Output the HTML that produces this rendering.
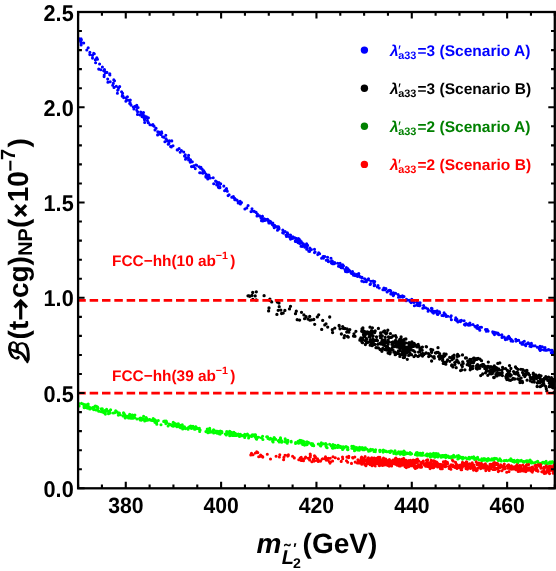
<!DOCTYPE html>
<html><head><meta charset="utf-8"><title>plot</title><style>html,body{margin:0;padding:0;background:#fff;width:556px;height:571px;overflow:hidden}text{font-family:"Liberation Sans",sans-serif;text-rendering:geometricPrecision}svg{will-change:transform}</style></head><body>
<svg width="556" height="571" viewBox="0 0 556 571" style="display:block;position:absolute;left:0;top:0">
<rect width="556" height="571" fill="#fff"/>
<defs><clipPath id="c"><rect x="78.1" y="12.0" width="478.7" height="476.3"/></clipPath></defs>
<g clip-path="url(#c)">
<path d="M78.7 39.0h0M81.4 39.7h0M81.1 44.9h0M78.7 38.5h0M80.9 42.6h0M83.7 43.0h0M79.1 40.3h0M81.0 38.7h0M81.0 42.1h0M80.1 39.6h0M86.8 50.0h0M89.8 54.6h0M89.9 52.4h0M88.2 47.8h0M92.5 58.1h0M165.8 135.2h0M117.4 93.3h0M143.0 116.9h0M142.0 116.6h0M96.1 59.1h0M136.8 110.2h0M148.4 122.5h0M164.9 141.7h0M99.6 64.0h0M169.5 140.8h0M100.8 69.7h0M170.6 146.6h0M102.4 67.0h0M157.6 134.9h0M103.7 70.7h0M154.1 126.3h0M95.6 62.7h0M121.6 91.7h0M113.3 83.4h0M110.2 81.8h0M109.8 73.8h0M96.8 57.7h0M109.9 75.0h0M138.1 107.5h0M193.6 166.4h0M112.7 85.2h0M185.5 159.3h0M113.8 79.9h0M95.3 59.8h0M137.2 107.6h0M126.2 98.0h0M130.3 100.1h0M181.4 150.6h0M140.7 112.0h0M133.3 107.1h0M98.7 69.1h0M123.1 96.4h0M107.9 82.2h0M156.1 128.3h0M160.7 134.5h0M118.6 87.9h0M141.9 112.8h0M180.2 152.3h0M107.7 79.1h0M147.4 120.5h0M137.5 114.4h0M128.8 100.3h0M141.4 115.2h0M127.4 96.8h0M188.6 159.9h0M104.5 69.6h0M131.0 105.1h0M161.6 131.9h0M196.6 165.2h0M189.2 159.4h0M135.9 106.7h0M130.7 104.5h0M136.8 105.4h0M137.6 111.7h0M104.8 71.5h0M142.7 114.3h0M140.1 114.9h0M157.8 131.8h0M186.2 157.7h0M144.5 119.0h0M163.8 137.2h0M143.5 112.5h0M126.1 100.7h0M145.8 117.2h0M146.5 116.7h0M144.5 119.7h0M148.2 122.8h0M122.6 93.3h0M177.6 150.0h0M117.7 90.3h0M171.3 146.9h0M119.7 86.6h0M135.1 106.4h0M92.5 55.4h0M192.3 161.8h0M122.4 95.3h0M168.9 143.6h0M159.6 133.7h0M168.9 142.1h0M118.1 89.8h0M144.3 115.8h0M104.1 76.6h0M129.7 103.5h0M199.1 166.7h0M152.2 125.0h0M191.5 166.6h0M195.8 165.0h0M126.6 99.9h0M130.1 102.9h0M106.9 72.4h0M152.9 124.6h0M183.7 152.0h0M161.8 133.3h0M114.0 87.4h0M167.6 140.9h0M144.7 122.4h0M105.4 72.7h0M171.8 140.9h0M166.1 138.9h0M94.3 53.8h0M188.5 157.2h0M153.6 125.8h0M155.0 129.9h0M104.2 75.0h0M177.2 149.9h0M144.4 119.0h0M179.1 148.6h0M143.5 112.5h0M195.3 168.6h0M185.3 154.8h0M126.9 97.0h0M150.0 124.7h0M142.5 114.9h0M148.4 117.8h0M173.0 145.7h0M162.6 136.7h0M190.2 162.3h0M93.7 53.3h0M133.9 109.0h0M188.6 155.3h0M147.3 118.3h0M190.5 159.8h0M114.5 80.8h0M122.2 96.2h0M168.2 144.2h0M193.7 165.9h0M158.9 132.0h0M184.5 156.1h0M125.9 101.2h0M97.5 59.3h0M116.3 86.2h0M109.7 74.7h0M123.6 97.6h0M199.7 172.8h0M200.6 168.3h0M323.8 256.6h0M233.1 196.9h0M287.9 234.0h0M295.4 241.4h0M203.8 170.9h0M208.2 175.7h0M233.0 196.7h0M234.4 198.5h0M207.1 175.2h0M209.9 177.9h0M315.1 252.0h0M208.1 176.0h0M306.5 247.6h0M254.3 211.4h0M298.4 240.5h0M219.7 186.5h0M306.8 245.1h0M272.8 223.1h0M302.1 246.4h0M318.7 252.8h0M215.6 181.1h0M305.8 244.9h0M206.2 174.4h0M217.8 184.2h0M217.9 185.1h0M295.3 238.0h0M227.3 191.3h0M220.0 187.6h0M302.1 242.7h0M277.5 230.2h0M304.9 247.2h0M267.6 219.4h0M282.8 230.0h0M224.6 190.8h0M205.8 176.3h0M246.8 207.9h0M263.9 220.4h0M238.2 202.9h0M290.5 235.1h0M256.1 212.4h0M282.7 232.8h0M274.3 227.7h0M225.6 189.9h0M205.9 177.1h0M328.3 261.6h0M208.5 176.1h0M200.2 172.8h0M216.6 181.9h0M248.1 205.5h0M308.8 251.3h0M309.9 248.0h0M251.0 211.6h0M277.9 226.9h0M239.0 202.0h0M327.9 260.2h0M264.3 218.7h0M298.8 239.6h0M241.5 202.5h0M269.6 221.5h0M297.0 239.3h0M324.8 256.5h0M218.4 187.3h0M262.5 216.2h0M270.5 221.6h0M311.4 249.6h0M213.7 183.7h0M301.2 241.5h0M287.4 232.8h0M270.9 222.9h0M241.5 202.5h0M207.6 178.3h0M257.0 216.0h0M237.1 200.3h0M292.9 236.8h0M259.6 215.9h0M240.1 201.3h0M286.0 235.1h0M261.9 216.9h0M300.0 240.2h0M296.5 238.5h0M319.6 253.7h0M296.4 240.1h0M269.1 220.9h0M304.1 245.9h0M261.0 218.1h0M310.3 249.6h0M262.4 218.9h0M228.1 195.6h0M226.5 188.6h0M264.8 220.4h0M244.9 209.0h0M266.3 219.5h0M236.4 199.8h0M207.1 175.2h0M277.6 227.6h0M268.9 222.9h0M252.0 208.7h0M234.6 198.2h0M266.6 219.9h0M218.9 182.5h0M323.5 258.1h0M273.3 225.1h0M327.6 257.3h0M220.7 183.8h0M216.6 181.7h0M298.3 242.6h0M257.4 214.0h0M219.1 187.7h0M319.1 253.2h0M208.8 175.0h0M210.3 178.0h0M265.7 219.9h0M298.4 241.4h0M265.2 219.8h0M272.5 224.7h0M298.0 242.6h0M240.4 203.9h0M283.4 233.1h0M274.6 225.2h0M323.1 256.6h0M202.1 169.0h0M200.9 167.3h0M223.8 186.1h0M216.7 184.9h0M289.8 237.3h0M290.5 239.1h0M277.6 226.9h0M292.0 237.5h0M292.3 238.4h0M293.1 238.3h0M261.5 220.7h0M294.5 237.8h0M299.9 242.9h0M229.1 194.7h0M326.3 260.2h0M203.0 170.9h0M298.4 238.6h0M273.7 226.3h0M226.9 190.6h0M321.6 258.3h0M301.0 246.3h0M285.1 231.5h0M302.8 245.0h0M303.4 243.8h0M291.3 238.8h0M299.8 243.4h0M234.8 199.8h0M290.7 237.8h0M306.8 248.1h0M306.7 249.2h0M287.5 236.2h0M286.5 236.4h0M309.5 251.4h0M262.8 220.9h0M213.2 177.7h0M207.9 178.4h0M314.5 249.3h0M268.6 221.7h0M279.0 229.0h0M314.5 252.6h0M206.9 176.3h0M306.6 243.8h0M307.6 245.4h0M295.3 241.0h0M317.9 254.2h0M278.6 226.9h0M202.8 173.3h0M283.2 231.7h0M209.0 175.6h0M233.4 196.5h0M294.0 237.9h0M317.8 254.6h0M307.0 249.2h0M207.8 179.0h0M275.6 226.4h0M279.0 228.1h0M299.1 239.1h0M252.1 211.1h0M204.7 172.4h0M262.3 216.4h0M231.8 197.3h0M366.3 281.1h0M330.9 261.5h0M481.5 327.3h0M366.3 281.7h0M486.3 331.3h0M334.8 263.2h0M516.3 340.7h0M347.9 271.6h0M418.4 303.3h0M402.8 297.1h0M395.6 293.3h0M428.6 310.2h0M531.1 346.6h0M464.1 320.7h0M341.3 267.8h0M342.7 267.7h0M343.5 265.7h0M442.0 315.5h0M345.0 269.6h0M512.8 341.3h0M346.4 271.8h0M423.6 305.5h0M477.5 325.5h0M358.4 274.6h0M504.2 337.1h0M388.2 290.9h0M373.9 283.2h0M552.8 352.8h0M553.3 352.0h0M351.2 273.2h0M517.7 340.5h0M485.5 329.5h0M361.8 281.1h0M545.0 350.1h0M546.6 350.2h0M456.9 319.3h0M358.8 275.5h0M545.0 347.6h0M515.8 339.3h0M362.0 277.4h0M445.2 314.2h0M468.5 324.3h0M479.8 330.2h0M468.2 324.2h0M450.7 317.1h0M510.0 338.8h0M367.0 280.0h0M368.4 279.7h0M486.9 329.8h0M345.5 271.5h0M370.5 284.1h0M370.9 281.3h0M446.2 315.9h0M445.6 314.9h0M487.2 329.6h0M540.9 349.7h0M508.1 337.9h0M516.1 341.1h0M465.2 324.0h0M377.4 287.0h0M531.8 346.1h0M419.4 303.0h0M334.0 263.8h0M525.2 344.8h0M465.7 323.8h0M358.8 273.6h0M383.6 289.8h0M469.1 324.5h0M468.9 325.2h0M393.5 292.9h0M549.6 350.0h0M477.5 328.3h0M527.9 343.5h0M520.4 342.7h0M501.7 335.1h0M389.4 290.3h0M461.4 320.4h0M416.7 305.0h0M493.1 333.0h0M552.1 350.2h0M540.0 346.3h0M544.0 350.0h0M528.1 342.8h0M393.0 294.9h0M339.7 266.6h0M374.7 281.6h0M358.7 275.8h0M436.4 312.4h0M393.7 294.8h0M470.3 325.0h0M437.2 310.9h0M551.4 350.2h0M505.2 338.7h0M469.9 323.0h0M398.1 294.5h0M332.5 263.8h0M385.9 288.5h0M417.9 305.4h0M444.1 312.9h0M407.0 299.8h0M530.9 344.5h0M352.5 271.5h0M411.8 299.2h0M367.3 279.9h0M360.3 276.9h0M432.5 312.2h0M530.7 344.4h0M431.8 310.9h0M332.3 261.1h0M417.9 305.1h0M533.0 345.7h0M419.0 305.6h0M479.0 328.3h0M497.8 333.1h0M331.8 263.2h0M422.8 308.3h0M443.3 315.6h0M410.1 301.4h0M444.2 314.3h0M543.6 349.7h0M518.7 340.3h0M433.5 313.1h0M486.2 329.9h0M522.2 342.9h0M398.5 297.3h0M363.8 281.8h0M431.4 311.1h0M456.6 320.6h0M432.6 310.8h0M468.1 325.0h0M393.3 295.7h0M435.0 311.2h0M525.7 345.7h0M391.5 293.6h0M419.5 305.8h0M383.9 288.1h0M502.0 337.4h0M432.0 308.5h0M473.0 324.5h0M511.1 340.9h0M480.1 327.2h0M378.0 285.6h0M407.1 299.9h0M347.8 269.8h0M445.7 315.5h0M451.2 315.8h0M361.9 277.7h0M447.8 316.3h0M439.4 311.8h0M341.6 265.3h0M353.5 275.3h0M404.0 296.5h0M390.7 290.9h0M400.3 296.9h0M393.5 293.8h0M524.3 341.2h0M477.0 328.3h0M455.8 317.9h0M349.3 271.3h0M457.9 322.0h0M414.4 305.7h0M416.9 302.2h0M460.5 321.6h0M541.1 346.9h0M494.5 334.6h0M427.6 308.8h0M505.9 338.9h0M464.4 324.5h0M409.3 300.3h0M466.1 323.5h0M340.1 263.4h0M505.4 339.6h0M333.4 262.9h0M439.7 313.0h0M456.9 320.0h0M522.0 344.2h0M496.2 332.7h0M451.4 319.7h0M349.6 270.8h0M420.1 302.8h0M474.9 326.2h0M384.8 289.8h0M357.1 274.3h0M420.1 305.3h0M539.6 348.8h0M478.9 328.5h0M406.5 299.3h0M337.7 263.3h0M446.2 316.5h0M460.0 320.9h0M393.2 293.7h0M417.7 303.0h0M352.5 272.9h0M374.2 285.8h0M485.9 329.9h0M433.5 311.9h0M539.3 349.1h0M530.3 343.9h0M374.7 285.5h0M331.4 263.0h0M364.7 278.8h0M475.7 327.0h0M342.7 264.7h0M538.9 347.6h0M488.1 331.1h0M424.1 307.6h0M495.1 333.5h0M445.5 315.3h0M431.8 309.1h0M497.9 334.1h0M498.4 333.8h0M431.8 310.3h0M402.4 295.8h0M540.2 350.4h0M501.9 334.9h0M437.8 314.5h0M406.1 300.7h0M425.6 307.7h0M346.4 267.5h0M542.3 346.7h0M334.7 262.6h0M507.7 337.4h0M508.5 336.7h0M508.7 336.4h0M509.7 337.9h0M347.1 271.4h0M331.0 258.3h0M512.2 340.5h0M390.8 293.9h0M373.1 281.1h0M492.7 331.7h0M346.2 271.2h0M411.1 302.6h0M383.6 289.6h0M455.6 319.3h0M352.2 273.7h0M525.5 345.1h0M413.9 302.4h0M478.5 328.7h0M373.8 281.8h0M522.7 342.2h0M523.2 344.2h0M494.6 332.3h0M526.3 344.0h0M349.8 270.9h0M379.2 288.0h0M354.4 273.7h0M370.1 284.4h0M391.4 292.9h0M529.9 346.3h0M347.7 268.6h0M531.4 343.2h0M537.3 347.2h0M338.5 266.3h0M494.4 333.3h0M400.0 296.4h0M535.1 345.8h0M387.1 291.9h0M507.1 339.2h0M357.6 276.4h0M374.6 284.8h0M499.0 334.8h0M546.7 350.3h0M431.4 308.4h0M455.4 319.7h0M428.1 311.2h0M382.9 289.7h0M437.3 314.3h0M348.0 269.3h0M368.5 278.7h0M411.5 301.5h0M355.1 275.6h0M548.4 349.6h0M548.8 349.8h0M390.1 290.6h0M465.2 325.1h0M551.3 352.7h0M551.8 351.4h0M552.8 351.9h0M511.3 339.5h0M348.2 269.3h0" stroke="#0000ff" stroke-width="3.10" stroke-linecap="round" fill="none"/>
<path d="M248.0 295.8h0M249.8 296.3h0M251.9 295.5h0M252.8 299.4h0M270.0 300.5h0M256.3 291.8h0M296.3 311.2h0M252.7 292.5h0M269.0 307.9h0M264.1 295.7h0M279.2 306.7h0M284.9 310.4h0M268.6 310.9h0M269.9 299.1h0M271.7 301.9h0M249.0 295.8h0M283.2 313.1h0M277.3 302.0h0M278.2 310.3h0M280.8 310.1h0M281.6 313.5h0M256.2 300.0h0M248.9 295.8h0M279.0 303.0h0M289.5 308.9h0M290.5 306.3h0M276.9 314.4h0M255.2 295.9h0M295.5 313.7h0M297.2 319.7h0M299.6 320.1h0M348.9 332.2h0M301.5 312.3h0M303.9 314.9h0M304.6 318.7h0M306.1 316.7h0M308.0 319.1h0M309.7 316.4h0M348.1 330.1h0M343.0 328.3h0M313.8 319.5h0M314.7 324.3h0M310.0 320.2h0M348.3 337.1h0M318.7 314.8h0M332.3 329.7h0M321.7 329.4h0M355.9 331.3h0M324.8 324.9h0M326.0 323.8h0M327.7 327.1h0M334.8 328.1h0M339.1 325.5h0M332.6 332.5h0M340.0 328.8h0M344.1 337.7h0M346.7 332.1h0M329.7 317.0h0M339.2 326.0h0M341.4 334.0h0M342.7 326.6h0M322.7 320.4h0M344.8 328.5h0M347.0 329.0h0M347.5 336.4h0M349.8 329.6h0M344.6 335.6h0M311.3 319.9h0M353.5 336.1h0M355.0 336.3h0M317.3 316.9h0M354.0 333.8h0M359.9 340.2h0M360.1 339.3h0M370.6 335.0h0M365.9 334.0h0M360.9 337.8h0M363.7 336.7h0M361.7 331.2h0M364.1 331.1h0M362.0 328.9h0M362.5 331.8h0M362.8 330.3h0M376.5 336.8h0M363.2 331.4h0M363.5 334.7h0M378.4 347.9h0M372.4 327.8h0M373.6 341.4h0M364.8 336.3h0M365.0 335.2h0M365.4 340.8h0M365.5 334.1h0M365.9 332.2h0M366.3 341.7h0M372.0 334.4h0M372.2 345.7h0M372.9 338.9h0M376.6 339.7h0M367.6 342.6h0M377.9 344.3h0M362.9 328.0h0M378.4 328.4h0M368.8 332.5h0M368.9 334.2h0M365.0 332.7h0M362.1 341.6h0M369.8 341.6h0M370.2 345.2h0M370.5 342.3h0M370.0 337.1h0M371.0 342.8h0M371.4 330.6h0M371.5 341.1h0M371.8 342.4h0M372.0 340.7h0M372.6 331.7h0M370.6 332.3h0M373.1 336.0h0M373.4 331.8h0M362.5 342.7h0M366.4 338.7h0M366.5 339.3h0M369.2 336.9h0M374.6 340.5h0M374.9 344.4h0M375.2 331.0h0M365.4 344.5h0M375.9 340.3h0M376.0 347.7h0M362.2 330.5h0M361.8 338.8h0M377.0 347.6h0M373.5 344.1h0M377.5 340.6h0M366.6 341.7h0M367.3 331.8h0M378.3 343.9h0M370.1 339.9h0M374.7 332.6h0M361.9 342.0h0M370.0 327.2h0M363.0 339.5h0M380.1 335.9h0M380.3 336.2h0M380.5 337.7h0M390.0 350.3h0M393.0 350.1h0M386.8 333.0h0M381.2 337.8h0M381.3 344.0h0M381.3 335.7h0M381.8 341.5h0M381.9 351.3h0M382.1 349.7h0M395.6 340.3h0M382.4 339.9h0M402.7 352.4h0M382.8 348.5h0M383.1 331.9h0M387.4 347.2h0M383.4 341.8h0M386.7 350.0h0M395.6 354.6h0M384.0 341.4h0M384.0 343.9h0M384.3 342.2h0M384.5 345.5h0M384.6 331.0h0M388.9 341.9h0M385.0 349.5h0M385.2 337.4h0M385.4 332.8h0M386.0 333.9h0M410.1 354.5h0M382.0 341.7h0M386.2 346.7h0M404.4 339.4h0M386.5 346.6h0M382.3 335.8h0M386.9 343.0h0M387.1 342.4h0M402.3 351.4h0M387.4 346.3h0M387.5 347.1h0M387.8 330.2h0M411.6 344.8h0M388.1 340.1h0M380.1 349.5h0M406.9 351.1h0M399.1 346.8h0M388.9 350.9h0M398.7 353.6h0M389.3 348.7h0M400.1 340.0h0M403.3 357.6h0M405.2 355.2h0M389.9 353.8h0M392.9 336.0h0M390.3 352.5h0M390.4 333.6h0M402.7 354.5h0M405.5 348.5h0M404.1 346.8h0M401.8 342.6h0M391.3 350.0h0M391.5 337.3h0M391.6 349.7h0M391.9 342.5h0M392.0 344.4h0M404.0 342.3h0M392.5 346.9h0M393.0 342.0h0M388.5 336.9h0M409.3 344.2h0M393.1 346.0h0M393.3 343.3h0M380.6 333.0h0M393.7 345.5h0M393.9 352.2h0M394.1 346.7h0M383.5 345.1h0M380.3 343.1h0M396.9 346.9h0M392.4 347.4h0M395.0 352.2h0M395.2 354.7h0M395.4 341.1h0M395.5 335.6h0M404.3 350.4h0M396.0 345.4h0M404.8 347.1h0M396.3 337.3h0M397.1 345.5h0M396.6 343.8h0M401.7 339.9h0M396.9 353.3h0M397.2 345.6h0M393.7 342.8h0M397.5 343.6h0M397.8 342.5h0M398.0 352.3h0M409.1 342.7h0M398.2 346.4h0M398.4 351.0h0M398.7 344.1h0M398.9 340.7h0M399.0 347.4h0M399.2 343.0h0M402.1 345.9h0M399.6 350.4h0M399.8 339.5h0M399.9 356.4h0M389.8 337.5h0M385.2 341.5h0M400.6 338.8h0M408.4 352.1h0M400.8 344.3h0M401.1 337.0h0M401.1 340.7h0M401.3 348.0h0M400.8 342.5h0M401.8 340.7h0M401.9 353.5h0M402.0 354.4h0M397.6 346.1h0M402.5 347.9h0M406.1 347.2h0M402.8 349.6h0M403.0 344.1h0M406.2 349.6h0M403.3 349.2h0M403.5 340.3h0M380.2 343.8h0M403.9 345.5h0M404.1 348.0h0M404.4 357.4h0M404.5 357.0h0M410.1 350.3h0M392.3 344.7h0M405.1 355.1h0M405.1 352.7h0M406.1 351.9h0M405.6 343.0h0M388.1 353.1h0M405.9 339.0h0M406.0 352.8h0M406.2 347.8h0M406.5 352.9h0M406.7 352.7h0M406.9 347.7h0M407.0 352.1h0M388.1 344.2h0M407.3 359.3h0M407.5 350.0h0M407.8 350.6h0M408.0 347.5h0M411.4 349.9h0M406.9 347.6h0M408.5 343.2h0M408.7 355.4h0M408.9 347.4h0M409.0 345.5h0M409.1 345.6h0M409.4 344.4h0M409.5 350.4h0M410.9 347.4h0M409.8 345.5h0M410.1 353.4h0M384.9 340.1h0M410.5 344.6h0M410.6 346.1h0M410.9 344.6h0M411.0 347.5h0M400.1 355.5h0M411.3 347.2h0M411.5 354.7h0M399.5 343.0h0M411.9 341.8h0M428.7 356.5h0M457.6 354.4h0M413.4 350.6h0M414.1 343.3h0M446.1 354.2h0M414.9 351.9h0M415.5 355.3h0M416.0 346.0h0M416.9 346.9h0M452.1 359.6h0M418.0 356.4h0M418.2 344.4h0M418.8 347.0h0M419.3 355.6h0M420.0 349.8h0M420.8 348.1h0M452.8 356.1h0M468.9 365.3h0M422.5 356.0h0M422.6 353.5h0M465.5 358.0h0M414.0 356.6h0M447.6 359.9h0M425.1 353.6h0M438.2 352.4h0M426.2 346.6h0M449.8 361.3h0M457.0 361.4h0M449.7 357.3h0M428.5 353.6h0M426.5 346.8h0M413.9 343.7h0M430.4 355.6h0M430.9 349.5h0M431.4 352.1h0M431.6 361.0h0M469.8 365.2h0M432.9 356.9h0M415.8 345.1h0M434.3 358.2h0M415.5 345.4h0M435.4 352.8h0M435.9 353.1h0M445.8 364.2h0M451.6 365.6h0M439.6 359.0h0M426.1 353.0h0M438.6 356.5h0M418.6 352.1h0M439.6 353.7h0M440.2 357.7h0M419.6 351.9h0M441.4 356.4h0M442.0 356.1h0M442.6 360.6h0M442.7 359.0h0M443.3 363.4h0M444.0 356.4h0M444.6 362.3h0M444.9 355.5h0M432.7 349.9h0M446.4 361.8h0M438.0 347.7h0M462.3 366.5h0M454.9 364.6h0M423.7 354.7h0M464.9 369.8h0M418.8 346.2h0M458.8 362.8h0M444.1 353.8h0M421.6 354.4h0M451.8 364.8h0M422.4 347.1h0M452.9 366.9h0M453.8 357.8h0M454.1 355.2h0M454.7 362.6h0M437.0 352.4h0M455.7 361.9h0M456.2 367.7h0M456.9 360.0h0M457.3 356.4h0M458.0 361.7h0M413.5 346.4h0M458.9 355.8h0M434.1 356.7h0M440.0 357.0h0M460.6 370.6h0M461.5 364.9h0M461.7 369.9h0M462.7 361.8h0M463.1 363.8h0M453.4 358.5h0M451.4 357.6h0M431.6 352.4h0M463.2 363.4h0M462.5 354.9h0M466.4 357.9h0M467.2 364.7h0M467.7 361.1h0M468.3 362.5h0M425.7 353.3h0M422.2 350.3h0M469.9 359.4h0M470.2 369.8h0M470.5 368.0h0M499.9 373.4h0M471.5 361.4h0M476.3 367.8h0M492.4 373.4h0M472.6 368.5h0M473.0 366.2h0M509.1 371.5h0M473.6 362.6h0M487.8 375.3h0M474.3 358.1h0M492.2 369.8h0M509.5 365.6h0M485.3 368.2h0M509.7 371.3h0M476.3 368.4h0M476.8 359.4h0M477.3 369.0h0M477.6 364.7h0M478.1 358.3h0M476.6 365.8h0M478.7 365.9h0M477.3 365.0h0M486.2 367.7h0M506.9 379.5h0M470.8 362.0h0M480.7 375.6h0M480.9 365.4h0M505.8 376.6h0M481.9 365.0h0M490.2 370.5h0M482.7 374.0h0M482.8 364.4h0M479.7 368.3h0M483.6 364.6h0M483.9 365.6h0M507.0 374.4h0M484.8 368.6h0M498.6 368.8h0M485.6 372.8h0M485.9 372.3h0M484.9 366.2h0M486.6 370.7h0M486.9 370.8h0M482.4 366.3h0M481.5 360.7h0M488.3 362.1h0M494.3 365.9h0M489.0 370.9h0M480.0 359.2h0M489.7 367.5h0M508.0 371.6h0M498.0 374.8h0M490.9 366.6h0M491.2 373.9h0M491.7 370.2h0M492.3 370.0h0M493.2 367.2h0M488.5 366.5h0M493.2 372.2h0M493.7 377.5h0M471.8 366.6h0M494.2 377.5h0M476.7 365.7h0M495.0 369.5h0M497.1 369.9h0M495.9 374.6h0M496.3 367.6h0M496.7 373.0h0M497.2 372.3h0M502.6 367.3h0M497.8 363.4h0M476.8 358.6h0M491.2 370.8h0M499.1 369.7h0M499.6 374.9h0M499.8 362.9h0M496.9 375.9h0M492.6 368.1h0M507.3 378.0h0M501.2 373.6h0M501.9 370.4h0M502.2 372.8h0M502.4 375.6h0M502.9 368.5h0M489.8 373.6h0M487.6 366.4h0M471.1 359.5h0M494.4 370.6h0M471.2 362.8h0M499.7 373.1h0M505.6 368.7h0M486.8 368.3h0M506.2 378.1h0M506.6 375.0h0M496.1 368.3h0M507.4 370.4h0M473.6 358.2h0M474.3 360.7h0M508.7 374.9h0M509.2 374.5h0M509.2 380.0h0M509.8 376.1h0M510.3 376.1h0M510.6 380.3h0M511.2 375.2h0M522.5 382.5h0M512.5 379.3h0M526.5 373.4h0M513.1 378.5h0M513.6 371.6h0M514.4 373.4h0M517.3 372.3h0M515.5 367.0h0M510.1 374.3h0M516.2 372.7h0M525.2 370.9h0M527.5 372.8h0M517.9 369.4h0M518.2 374.8h0M519.0 375.7h0M521.1 378.1h0M519.6 380.0h0M520.1 379.0h0M520.9 369.3h0M515.5 373.8h0M516.3 368.1h0M522.3 381.4h0M522.8 369.6h0M523.5 374.9h0M517.8 372.9h0M524.3 374.5h0M524.8 376.5h0M520.0 382.5h0M514.7 379.0h0M517.8 378.9h0M526.9 370.4h0M527.1 380.2h0M510.9 368.5h0M522.6 372.5h0M528.6 373.7h0M526.1 374.8h0M529.5 375.1h0M543.2 379.5h0M530.5 380.9h0M530.7 378.9h0M536.6 378.5h0M540.2 378.3h0M545.8 376.7h0M531.9 377.9h0M532.3 378.3h0M532.7 377.6h0M533.0 377.3h0M533.3 373.2h0M551.1 385.3h0M533.9 378.7h0M534.3 382.1h0M543.2 381.6h0M530.3 377.6h0M542.0 385.5h0M538.8 376.0h0M535.7 374.8h0M533.9 376.7h0M536.3 375.7h0M536.6 377.2h0M540.6 386.4h0M537.4 383.0h0M534.0 380.6h0M537.9 377.4h0M538.2 381.5h0M547.8 380.4h0M546.8 390.9h0M539.2 375.1h0M550.9 379.6h0M540.0 382.8h0M540.3 379.3h0M552.7 379.4h0M553.3 382.9h0M533.2 374.2h0M541.3 381.0h0M534.9 376.3h0M549.3 386.4h0M542.3 380.6h0M545.6 386.3h0M549.3 383.2h0M533.7 375.6h0M543.7 383.5h0M543.8 380.6h0M544.1 385.1h0M544.5 378.1h0M545.0 378.4h0M551.2 385.7h0M533.4 376.9h0M543.0 382.5h0M540.1 386.7h0M546.3 388.7h0M546.9 379.1h0M553.9 381.9h0M551.3 382.8h0M548.2 380.5h0M549.4 383.1h0M551.4 377.6h0M548.6 377.2h0M541.0 375.8h0M549.3 386.7h0M554.8 380.6h0M549.8 380.2h0M550.2 381.6h0M550.3 386.6h0M550.7 379.8h0M550.9 383.7h0M554.0 379.4h0M551.6 385.8h0M552.0 381.1h0M552.5 387.4h0M532.2 381.8h0M553.0 387.8h0M553.3 385.5h0M553.7 380.0h0M553.9 392.6h0M554.3 387.8h0M530.6 377.4h0M537.1 386.5h0" stroke="#000000" stroke-width="3.30" stroke-linecap="round" fill="none"/>
<path d="M523.8 461.5h0M79.1 405.9h0M285.2 438.9h0M430.2 453.8h0M230.7 434.0h0M106.4 409.8h0M390.3 451.2h0M83.7 404.2h0M519.5 460.9h0M85.2 407.4h0M523.6 461.8h0M213.3 432.5h0M394.4 452.1h0M234.8 433.7h0M88.7 406.6h0M291.2 442.0h0M90.0 407.6h0M255.1 437.0h0M514.2 460.4h0M462.1 457.9h0M141.4 419.6h0M132.5 415.1h0M200.1 430.0h0M438.1 453.7h0M130.7 415.9h0M262.9 439.5h0M284.9 441.5h0M174.7 425.6h0M173.6 425.3h0M338.0 445.2h0M295.9 442.9h0M517.2 460.4h0M255.6 435.9h0M232.3 435.4h0M215.9 431.1h0M397.9 453.0h0M481.5 460.5h0M221.9 432.8h0M199.4 428.3h0M491.8 459.9h0M267.5 436.7h0M421.1 454.8h0M332.8 448.2h0M390.1 452.4h0M275.5 439.2h0M401.6 452.0h0M120.2 414.7h0M229.9 433.0h0M493.9 460.3h0M512.9 461.5h0M238.7 434.6h0M291.2 441.4h0M416.3 452.7h0M334.9 445.3h0M218.8 433.2h0M118.1 412.9h0M275.7 439.2h0M552.1 461.7h0M254.0 434.9h0M166.7 422.3h0M346.0 446.5h0M554.8 463.7h0M504.3 460.7h0M123.5 412.9h0M337.7 447.5h0M443.4 456.6h0M325.7 443.6h0M400.3 454.2h0M114.9 412.6h0M226.9 434.2h0M303.2 443.6h0M481.8 458.9h0M309.0 442.9h0M130.9 418.3h0M156.8 424.3h0M132.5 417.1h0M245.6 435.4h0M229.5 433.1h0M179.6 426.9h0M549.5 462.4h0M268.0 438.4h0M153.2 419.8h0M137.0 419.0h0M177.2 424.0h0M207.3 429.0h0M98.0 408.1h0M278.3 440.7h0M139.6 418.5h0M141.2 420.2h0M216.0 432.6h0M359.6 447.3h0M168.1 426.0h0M527.2 460.8h0M471.6 457.3h0M233.9 432.4h0M395.0 450.7h0M280.5 437.9h0M298.1 441.3h0M407.6 453.4h0M189.7 426.5h0M474.7 458.8h0M400.4 452.1h0M403.6 454.7h0M499.0 460.3h0M153.2 418.5h0M312.7 443.8h0M272.6 441.3h0M154.9 422.2h0M262.6 436.2h0M469.5 457.7h0M380.2 450.3h0M96.1 406.4h0M225.3 434.0h0M274.2 439.3h0M307.0 441.8h0M161.0 424.8h0M548.7 463.1h0M379.7 450.2h0M449.0 457.4h0M383.1 451.0h0M458.1 457.8h0M164.8 421.1h0M166.2 421.1h0M456.8 456.0h0M230.9 433.8h0M510.8 458.8h0M169.0 424.0h0M234.4 433.6h0M425.5 455.2h0M490.1 460.0h0M375.6 449.8h0M453.6 455.2h0M173.2 426.3h0M474.7 459.4h0M132.2 416.1h0M174.9 423.6h0M209.9 432.2h0M449.6 457.0h0M176.9 426.7h0M374.0 451.4h0M513.3 461.6h0M179.4 426.0h0M332.4 448.0h0M272.7 439.3h0M182.7 428.9h0M101.3 408.8h0M182.8 428.0h0M183.7 427.6h0M327.1 447.8h0M432.4 455.9h0M469.5 459.0h0M105.6 410.2h0M187.4 428.2h0M236.5 435.4h0M188.9 427.4h0M520.8 460.9h0M189.9 427.2h0M506.3 460.4h0M250.6 436.1h0M530.1 460.0h0M445.2 455.4h0M417.2 455.2h0M140.3 418.1h0M446.0 455.2h0M195.9 426.9h0M514.4 462.1h0M197.5 428.4h0M248.6 438.0h0M353.8 448.7h0M420.8 455.3h0M191.5 428.5h0M406.8 453.1h0M494.3 459.0h0M353.3 446.4h0M469.0 457.2h0M287.2 441.2h0M386.9 451.7h0M446.4 456.1h0M405.0 452.5h0M235.5 433.6h0M207.4 430.4h0M84.2 407.7h0M488.5 460.1h0M209.7 429.7h0M467.1 458.8h0M184.1 428.1h0M269.7 439.2h0M193.0 426.3h0M212.9 430.5h0M229.7 431.4h0M242.4 435.6h0M195.1 429.2h0M216.0 431.7h0M98.7 411.3h0M217.2 433.3h0M485.5 459.1h0M218.8 431.9h0M219.5 434.0h0M220.2 434.1h0M304.1 443.2h0M221.8 431.6h0M84.0 406.9h0M488.2 458.6h0M218.2 431.7h0M525.3 461.3h0M163.7 421.4h0M149.7 419.6h0M226.3 434.9h0M333.5 445.9h0M227.9 432.1h0M513.7 460.5h0M501.3 461.0h0M385.8 451.1h0M383.1 452.1h0M496.5 458.6h0M446.6 456.6h0M311.6 443.6h0M435.4 453.8h0M212.2 432.1h0M541.7 463.4h0M110.6 409.8h0M165.1 421.7h0M239.5 436.5h0M237.9 435.3h0M325.5 443.7h0M279.2 441.9h0M94.1 409.0h0M332.0 446.5h0M184.0 428.1h0M417.5 454.1h0M123.9 413.2h0M482.5 460.4h0M326.4 447.0h0M364.5 449.6h0M528.6 462.2h0M295.6 443.4h0M247.4 434.1h0M549.6 463.3h0M248.6 435.6h0M410.7 454.3h0M134.9 415.0h0M96.0 409.9h0M354.6 448.2h0M485.1 459.7h0M462.5 459.1h0M523.9 462.3h0M416.1 454.4h0M255.0 434.9h0M255.5 434.7h0M318.3 444.0h0M257.7 437.2h0M546.1 461.3h0M105.4 414.1h0M103.8 412.8h0M492.6 459.2h0M155.5 422.6h0M454.8 457.0h0M409.9 454.0h0M544.9 462.5h0M396.3 454.0h0M541.9 463.2h0M299.4 441.5h0M537.7 461.4h0M372.7 449.6h0M115.7 410.7h0M312.4 445.5h0M225.5 434.0h0M172.0 425.8h0M270.5 438.4h0M320.8 445.5h0M363.4 449.3h0M234.3 435.4h0M403.0 453.7h0M477.6 457.4h0M209.7 428.2h0M97.4 408.5h0M487.2 460.9h0M453.8 456.5h0M178.4 423.7h0M174.1 423.1h0M217.6 431.3h0M544.5 462.6h0M280.5 438.7h0M87.3 405.3h0M439.4 455.4h0M234.6 435.4h0M494.9 458.4h0M173.3 425.1h0M221.3 431.9h0M281.7 442.2h0M286.3 442.3h0M543.8 462.2h0M230.3 434.7h0M174.5 424.9h0M268.5 438.6h0M354.7 449.5h0M213.7 432.9h0M274.7 438.2h0M364.2 448.0h0M488.8 459.3h0M553.5 462.5h0M341.8 446.9h0M340.0 446.3h0M383.3 450.1h0M337.9 445.5h0M509.4 460.1h0M394.6 451.6h0M447.9 456.8h0M298.6 443.2h0M299.9 440.4h0M339.5 446.2h0M437.9 456.9h0M261.4 437.8h0M302.7 444.5h0M287.3 443.2h0M459.3 458.1h0M85.4 405.1h0M419.6 454.9h0M178.3 424.4h0M124.9 414.8h0M479.1 459.8h0M287.9 440.4h0M545.7 462.2h0M404.8 454.3h0M484.6 460.1h0M92.7 408.5h0M362.6 448.3h0M541.5 463.0h0M192.9 427.6h0M313.7 445.8h0M78.4 406.2h0M396.3 452.9h0M451.3 456.5h0M526.7 460.9h0M385.6 451.4h0M417.3 452.6h0M86.1 404.8h0M375.4 451.6h0M415.3 454.6h0M436.5 456.1h0M321.3 442.9h0M273.6 438.8h0M323.4 443.8h0M93.2 407.2h0M83.6 404.4h0M431.6 454.3h0M325.9 446.1h0M326.7 447.6h0M359.1 448.2h0M498.3 460.5h0M368.6 451.3h0M427.4 455.9h0M334.4 447.8h0M238.1 435.1h0M101.4 411.8h0M256.2 438.8h0M105.7 410.9h0M523.2 461.8h0M334.4 447.4h0M331.3 446.0h0M342.6 449.4h0M99.4 411.3h0M337.6 446.3h0M207.5 431.8h0M226.7 431.6h0M246.7 435.0h0M473.7 458.0h0M199.5 429.8h0M119.4 413.1h0M102.8 411.4h0M320.6 443.9h0M97.0 406.7h0M545.0 463.2h0M405.7 453.1h0M194.0 427.9h0M347.0 447.0h0M517.8 462.8h0M108.5 413.7h0M306.6 444.0h0M87.1 406.3h0M431.5 455.1h0M309.1 442.9h0M351.8 446.3h0M154.9 419.8h0M425.9 455.1h0M156.0 422.2h0M332.9 444.5h0M78.5 403.3h0M547.1 463.9h0M356.6 447.6h0M249.2 436.1h0M405.4 452.7h0M500.8 460.0h0M359.2 450.3h0M140.2 420.0h0M384.1 450.6h0M390.4 451.1h0M146.3 419.5h0M362.9 449.7h0M244.7 437.4h0M348.0 449.6h0M459.4 456.4h0M258.6 437.2h0M273.1 441.9h0M552.4 461.9h0M363.1 448.9h0M158.3 420.5h0M123.0 415.9h0M438.3 455.5h0M517.8 460.3h0M199.0 429.0h0M445.7 457.6h0M181.7 426.1h0M266.7 436.7h0M129.7 414.3h0M531.5 461.5h0M134.8 417.8h0M299.8 442.2h0M358.1 448.7h0M152.0 420.5h0M274.1 437.5h0M365.4 447.9h0M270.2 438.8h0M472.4 458.0h0M462.9 457.3h0M302.8 441.1h0M97.5 410.1h0M426.8 454.0h0M187.9 427.7h0M105.1 412.5h0M422.8 453.0h0M358.6 448.1h0M133.0 418.3h0M551.0 462.0h0M388.7 451.6h0M213.6 429.7h0M89.7 408.9h0M347.5 449.6h0M132.0 415.1h0M181.0 425.4h0M393.8 453.4h0M148.3 420.0h0M143.8 419.7h0M243.9 435.9h0M156.7 422.1h0M88.2 404.1h0M238.3 434.0h0M516.2 461.4h0M398.6 451.7h0M364.2 448.3h0M102.3 408.8h0M304.9 444.5h0M205.9 431.6h0M402.4 453.5h0M194.3 429.1h0M428.0 454.8h0M247.5 435.3h0M170.7 424.6h0M301.6 443.3h0M406.4 453.7h0M476.3 459.3h0M182.3 424.9h0M504.3 460.6h0M321.4 444.8h0M410.0 452.6h0M147.2 420.2h0M411.6 453.8h0M471.5 457.7h0M367.1 449.3h0M146.1 417.6h0M531.6 463.0h0M256.6 439.3h0M370.6 449.4h0M436.6 456.5h0M129.0 415.5h0M236.3 434.2h0M307.1 444.6h0M457.8 459.0h0M443.4 455.6h0M108.1 411.4h0M144.7 421.0h0M418.4 454.0h0M391.6 451.1h0M244.1 435.9h0M458.5 455.6h0M419.2 454.2h0M117.0 411.7h0M410.9 453.2h0M441.1 457.2h0M92.7 407.5h0M95.2 406.1h0M429.4 454.9h0M87.4 408.1h0M462.7 458.0h0M106.6 409.2h0M432.3 456.2h0M487.8 460.2h0M151.0 420.3h0M434.8 457.3h0M97.6 407.1h0M435.3 454.1h0M491.9 458.8h0M370.4 450.7h0M90.0 408.9h0M199.7 431.4h0M126.4 417.1h0M329.6 444.2h0M127.3 416.5h0M221.9 431.9h0M442.2 455.6h0M443.4 455.9h0M510.5 459.9h0M284.8 441.7h0M445.2 457.0h0M357.5 449.9h0M113.2 413.0h0M110.1 412.9h0M182.9 426.7h0M244.4 435.1h0M169.0 424.5h0M125.2 417.9h0M451.3 458.1h0M433.6 455.5h0M354.5 450.8h0M125.4 417.1h0M453.7 457.2h0M129.1 416.7h0M355.0 448.1h0M347.8 447.5h0M229.7 435.7h0M379.9 451.6h0M295.6 442.5h0M340.4 447.5h0M499.8 458.7h0M125.5 416.6h0M404.5 451.7h0M232.9 433.7h0M370.0 449.9h0M185.4 428.6h0M464.0 458.0h0M456.9 456.2h0M465.6 457.7h0M210.0 431.3h0M128.5 418.0h0M153.7 420.5h0M180.0 426.8h0M304.5 445.1h0M279.3 440.1h0M448.1 456.0h0M427.6 454.7h0M180.5 427.8h0M190.7 426.0h0M231.0 433.8h0M493.9 458.6h0M484.0 458.5h0M141.4 418.3h0M397.8 453.2h0M125.7 416.0h0M81.5 403.4h0M280.5 441.4h0M143.7 419.2h0M145.2 420.7h0M195.8 426.9h0M538.7 463.3h0M430.4 457.1h0M143.6 416.2h0M419.9 453.5h0M427.2 455.7h0M420.5 453.2h0M485.1 460.0h0M511.0 460.6h0M539.5 463.2h0M207.2 430.1h0M244.7 435.6h0M441.6 457.1h0M304.2 441.9h0M311.4 444.5h0M165.8 423.6h0M491.9 459.5h0M432.1 455.8h0M188.1 429.2h0M326.5 444.5h0M360.5 448.6h0M454.2 456.9h0M433.5 453.4h0M343.4 446.9h0M85.7 407.5h0M155.6 420.6h0M512.5 460.4h0M358.8 448.2h0M149.1 419.8h0M242.0 435.7h0M351.9 448.2h0M301.2 440.6h0M218.6 433.1h0M436.2 453.5h0M362.1 447.5h0M355.6 447.7h0M459.0 457.3h0M422.6 455.2h0M507.3 460.8h0M320.8 446.0h0M236.2 435.1h0M308.0 442.4h0M244.8 434.3h0M436.3 456.3h0M419.8 453.4h0M220.3 431.0h0M361.4 449.0h0M435.4 456.3h0M228.8 433.1h0M109.8 410.7h0M500.2 459.6h0M488.4 458.8h0M155.2 420.0h0M272.3 439.5h0M313.6 445.3h0M475.8 458.4h0M320.2 445.4h0M335.0 447.7h0M93.6 409.6h0M252.3 434.7h0M344.1 447.9h0M529.8 461.9h0M403.9 451.1h0M492.1 459.2h0M253.1 435.4h0M118.3 415.1h0M527.2 462.5h0M146.8 418.6h0M529.1 460.8h0M441.4 455.8h0M152.8 419.8h0M531.3 462.7h0M232.7 434.0h0M433.4 456.3h0M333.4 445.9h0M533.9 462.8h0M521.3 460.3h0M535.2 462.5h0M427.6 454.0h0M536.7 461.8h0M173.2 422.4h0M208.0 432.8h0M281.8 440.7h0M231.4 432.3h0M540.2 463.5h0M104.4 410.9h0M550.9 463.3h0M542.7 462.4h0M461.1 457.4h0M430.4 454.7h0M184.3 427.2h0M272.6 440.0h0M184.5 426.9h0M320.8 443.8h0M287.8 441.7h0M306.7 444.7h0M473.7 456.9h0M354.3 446.7h0M520.5 460.9h0M544.1 462.8h0M537.2 461.7h0M549.8 462.0h0M230.9 432.4h0M251.6 436.5h0M240.4 434.3h0" stroke="#00ff00" stroke-width="3.10" stroke-linecap="round" fill="none"/>
<path d="M260.6 455.0h0M251.5 453.4h0M253.0 454.7h0M255.4 453.0h0M287.8 456.1h0M258.7 456.7h0M260.4 456.3h0M257.8 452.6h0M256.7 451.9h0M267.3 454.3h0M288.2 455.8h0M270.5 459.0h0M262.8 457.1h0M283.6 459.7h0M276.1 456.2h0M279.8 454.8h0M283.9 457.4h0M279.4 457.0h0M285.0 455.3h0M287.6 455.4h0M288.4 454.9h0M262.3 456.2h0M292.6 456.2h0M294.3 457.9h0M250.8 454.9h0M298.8 459.7h0M357.9 459.7h0M301.2 460.4h0M302.9 459.4h0M303.5 460.8h0M304.9 458.3h0M305.6 457.0h0M314.5 455.7h0M330.0 463.1h0M308.1 458.2h0M309.6 459.9h0M310.3 456.9h0M311.9 461.8h0M320.6 461.1h0M313.4 459.6h0M314.1 461.1h0M315.4 456.8h0M310.4 455.3h0M318.0 460.7h0M318.2 461.5h0M319.2 460.7h0M342.5 457.0h0M341.2 461.4h0M322.6 458.8h0M342.7 458.7h0M324.7 458.6h0M325.5 456.9h0M326.2 460.1h0M327.3 458.8h0M328.2 458.4h0M329.4 461.8h0M330.2 458.3h0M348.8 456.3h0M332.6 461.0h0M333.0 456.8h0M357.4 462.9h0M327.8 460.1h0M330.6 462.0h0M335.3 457.7h0M338.4 458.7h0M314.7 458.1h0M301.2 457.3h0M341.2 461.3h0M310.2 454.1h0M322.2 459.0h0M313.3 459.3h0M314.6 460.7h0M346.5 460.7h0M347.7 462.3h0M348.7 457.6h0M300.2 458.0h0M317.3 460.6h0M351.5 463.4h0M352.6 457.6h0M353.0 457.9h0M354.8 457.0h0M355.2 462.1h0M346.9 457.1h0M317.5 458.7h0M358.9 461.6h0M359.2 463.0h0M399.7 463.6h0M360.3 461.1h0M360.4 462.1h0M409.6 464.0h0M361.0 459.5h0M405.4 464.3h0M401.9 459.3h0M399.2 465.3h0M361.8 464.3h0M364.5 459.9h0M392.0 462.5h0M362.3 460.8h0M362.5 461.2h0M362.7 460.8h0M362.9 460.8h0M370.4 461.6h0M363.2 458.5h0M406.3 467.6h0M363.7 461.8h0M404.3 464.9h0M364.0 462.7h0M364.4 459.2h0M376.7 458.3h0M364.8 459.9h0M364.9 464.7h0M365.1 456.5h0M365.2 464.2h0M384.4 459.1h0M396.4 464.6h0M365.9 461.0h0M367.7 462.5h0M372.4 462.1h0M368.9 462.3h0M383.8 462.0h0M410.2 463.3h0M367.2 460.1h0M367.3 461.8h0M367.6 462.3h0M367.6 458.6h0M374.8 459.4h0M377.1 462.8h0M387.8 463.2h0M368.4 457.9h0M368.7 463.4h0M369.0 460.6h0M388.5 463.8h0M410.6 464.3h0M392.8 463.0h0M360.7 463.2h0M370.0 464.6h0M367.8 458.6h0M403.4 462.1h0M370.5 462.1h0M411.5 463.8h0M370.9 458.5h0M408.3 463.4h0M371.3 459.7h0M369.7 462.6h0M405.2 462.1h0M379.3 460.1h0M372.0 461.4h0M372.3 462.3h0M371.3 461.1h0M372.6 460.8h0M372.8 458.4h0M396.1 463.3h0M361.2 458.1h0M373.5 460.4h0M376.6 463.3h0M376.2 461.7h0M374.0 459.7h0M403.7 458.6h0M374.4 463.6h0M400.7 460.6h0M372.3 464.3h0M375.1 465.8h0M375.2 466.0h0M394.3 461.7h0M391.0 463.0h0M388.6 465.8h0M376.2 460.3h0M376.3 459.6h0M376.5 461.0h0M373.3 459.1h0M406.0 460.4h0M365.9 465.7h0M395.9 458.0h0M377.5 462.4h0M377.7 463.0h0M377.8 458.3h0M378.0 460.4h0M378.3 461.4h0M370.1 461.1h0M378.7 462.3h0M378.8 459.4h0M379.1 465.4h0M399.0 463.7h0M379.6 465.6h0M379.7 463.2h0M379.9 457.4h0M362.7 463.0h0M379.3 461.0h0M373.3 461.6h0M380.6 461.5h0M403.7 463.1h0M381.5 464.6h0M409.3 464.7h0M381.5 461.2h0M381.7 459.8h0M395.6 462.9h0M361.6 457.1h0M364.3 462.0h0M382.5 465.4h0M382.8 464.1h0M390.0 463.4h0M383.1 461.7h0M383.3 462.3h0M383.5 458.0h0M397.2 460.6h0M377.2 463.4h0M384.1 463.1h0M384.3 465.0h0M384.6 464.2h0M384.7 463.5h0M385.0 461.0h0M401.1 462.1h0M387.8 464.9h0M385.6 461.3h0M385.8 459.0h0M385.8 462.5h0M401.8 460.3h0M409.3 465.1h0M386.5 464.1h0M386.7 464.9h0M373.8 458.3h0M387.2 461.6h0M387.3 463.5h0M387.4 462.7h0M387.6 464.5h0M388.0 463.5h0M388.0 465.4h0M404.9 460.9h0M410.3 462.5h0M388.6 461.1h0M388.9 461.8h0M389.1 466.1h0M389.4 465.6h0M389.4 459.6h0M381.2 464.4h0M389.8 462.0h0M371.8 457.9h0M397.2 465.2h0M361.5 459.6h0M390.6 464.9h0M390.8 461.0h0M391.2 463.2h0M391.3 464.6h0M391.6 465.9h0M381.1 462.3h0M391.9 464.4h0M363.1 461.6h0M392.3 461.2h0M400.8 465.4h0M389.7 462.9h0M393.4 462.8h0M367.4 463.6h0M393.2 463.4h0M368.9 461.9h0M366.5 464.4h0M393.8 461.0h0M404.1 465.0h0M378.3 457.3h0M374.4 458.0h0M405.1 466.7h0M411.4 465.7h0M395.2 461.0h0M395.3 458.6h0M395.5 461.4h0M372.1 465.7h0M395.9 461.8h0M396.2 459.4h0M407.0 463.9h0M400.6 463.8h0M373.1 461.1h0M408.5 463.3h0M397.0 459.4h0M399.3 459.4h0M410.8 463.4h0M385.8 461.1h0M397.8 461.5h0M400.3 466.0h0M398.3 462.2h0M398.5 464.2h0M398.7 463.2h0M398.9 460.8h0M373.5 459.5h0M399.3 465.9h0M399.6 461.7h0M397.6 464.4h0M399.8 464.7h0M400.0 462.8h0M374.7 463.6h0M399.9 463.6h0M387.0 461.2h0M400.8 462.7h0M363.2 462.1h0M401.4 465.1h0M401.4 460.3h0M409.2 463.1h0M360.7 461.7h0M402.0 465.2h0M402.3 459.2h0M393.0 460.0h0M407.8 463.9h0M388.2 460.5h0M403.1 462.0h0M403.3 459.3h0M400.7 464.6h0M364.4 459.0h0M403.8 458.6h0M375.0 459.3h0M395.0 463.9h0M404.5 462.9h0M411.2 465.0h0M404.9 460.8h0M405.1 463.6h0M405.2 464.8h0M371.6 461.8h0M386.8 460.6h0M381.4 460.4h0M360.3 461.7h0M405.0 461.6h0M406.5 466.1h0M406.7 460.9h0M406.9 461.7h0M363.2 458.5h0M384.6 461.0h0M407.6 466.8h0M407.6 466.1h0M408.0 461.0h0M408.0 461.6h0M376.7 463.3h0M399.0 464.2h0M408.6 466.8h0M408.9 460.5h0M393.5 462.4h0M409.2 462.1h0M409.4 466.0h0M382.4 462.9h0M409.9 462.1h0M363.2 459.5h0M410.2 460.8h0M410.5 460.2h0M410.6 463.8h0M411.0 461.5h0M411.1 465.3h0M375.9 460.5h0M402.5 464.7h0M372.9 464.3h0M363.1 462.0h0M547.9 467.6h0M511.4 465.7h0M413.0 462.7h0M500.3 467.6h0M413.6 462.4h0M414.1 463.2h0M414.3 464.4h0M446.9 462.8h0M548.7 467.0h0M415.3 468.4h0M519.4 470.4h0M509.1 467.5h0M544.0 468.9h0M416.9 467.7h0M417.2 460.8h0M460.2 465.1h0M418.0 466.8h0M470.5 468.5h0M418.5 464.7h0M418.9 461.1h0M487.0 469.1h0M419.7 464.7h0M490.0 467.1h0M420.3 467.2h0M420.8 465.4h0M421.1 462.7h0M459.6 467.2h0M422.0 462.8h0M456.4 464.6h0M519.6 465.5h0M422.8 461.7h0M423.3 461.5h0M423.8 464.5h0M520.2 471.2h0M424.3 463.7h0M475.0 468.7h0M512.3 468.8h0M549.3 466.5h0M414.0 464.5h0M496.6 463.3h0M426.5 460.4h0M426.8 465.8h0M427.4 461.6h0M547.8 468.1h0M427.7 459.8h0M436.6 462.0h0M428.6 466.6h0M429.1 464.2h0M429.3 462.8h0M536.6 467.8h0M466.7 466.4h0M430.4 466.6h0M430.7 463.0h0M431.2 460.4h0M536.2 469.7h0M422.6 461.9h0M427.8 463.1h0M432.5 465.1h0M432.8 467.7h0M482.1 465.7h0M433.7 467.6h0M550.5 467.4h0M434.4 461.1h0M453.8 466.0h0M492.6 466.0h0M435.5 462.3h0M435.6 466.1h0M454.5 466.8h0M436.5 466.0h0M453.2 466.6h0M437.4 465.6h0M437.5 466.6h0M462.4 463.4h0M483.7 464.8h0M438.8 464.2h0M439.1 465.9h0M439.4 466.6h0M439.6 465.9h0M440.0 464.2h0M496.6 464.4h0M440.7 467.0h0M441.1 465.5h0M489.7 468.4h0M414.1 461.8h0M442.3 468.7h0M446.4 462.3h0M442.9 465.1h0M443.4 461.9h0M524.3 466.5h0M461.5 466.2h0M444.3 466.2h0M428.6 463.5h0M427.2 466.1h0M445.5 461.2h0M503.6 468.9h0M446.3 464.3h0M446.6 463.5h0M446.8 463.7h0M447.4 463.6h0M461.5 465.5h0M467.5 469.1h0M504.3 464.1h0M545.0 467.4h0M474.0 466.5h0M434.4 463.0h0M449.5 466.3h0M427.7 466.4h0M431.2 463.2h0M450.9 469.2h0M437.1 463.8h0M451.6 465.9h0M516.4 467.0h0M452.3 466.4h0M536.3 467.4h0M453.0 465.1h0M451.1 464.8h0M549.0 473.0h0M427.8 465.0h0M485.6 468.0h0M430.7 465.1h0M493.6 466.6h0M455.6 462.4h0M440.5 468.8h0M472.2 462.9h0M456.4 465.7h0M456.9 465.3h0M457.1 464.7h0M434.6 466.5h0M415.1 465.9h0M535.0 465.5h0M458.6 466.1h0M520.0 468.8h0M459.4 467.6h0M480.0 465.4h0M525.9 471.6h0M460.6 465.7h0M554.2 469.7h0M461.1 469.7h0M552.5 469.1h0M461.7 469.8h0M427.9 465.7h0M462.5 462.4h0M462.9 464.4h0M463.4 466.3h0M423.3 461.1h0M460.2 465.6h0M461.9 465.5h0M464.7 463.4h0M471.1 467.7h0M501.9 466.8h0M509.0 471.6h0M466.0 468.6h0M466.4 461.7h0M466.8 462.1h0M467.3 463.7h0M473.5 470.1h0M467.9 466.6h0M424.5 465.1h0M531.0 467.8h0M484.5 466.7h0M487.9 468.5h0M469.8 466.6h0M470.0 467.3h0M470.5 467.3h0M511.8 468.6h0M548.8 470.3h0M471.5 465.3h0M471.8 466.1h0M472.3 467.6h0M445.4 463.7h0M473.1 464.5h0M473.1 465.4h0M486.5 466.1h0M449.1 466.6h0M474.4 467.4h0M473.1 466.3h0M449.2 468.5h0M475.6 469.4h0M543.9 467.3h0M476.2 461.9h0M476.4 470.8h0M477.0 464.6h0M508.0 468.2h0M523.4 471.0h0M415.9 462.7h0M525.2 469.4h0M426.1 463.2h0M460.2 467.1h0M479.5 465.3h0M479.7 466.6h0M539.3 466.1h0M550.1 470.4h0M480.7 468.6h0M481.2 465.3h0M481.4 463.4h0M497.8 463.7h0M518.6 468.3h0M482.7 466.5h0M445.3 466.7h0M483.3 467.9h0M483.7 467.2h0M483.9 466.7h0M484.4 467.7h0M433.3 463.3h0M520.9 467.8h0M485.4 463.9h0M485.8 470.6h0M474.7 467.3h0M442.0 466.5h0M509.2 468.3h0M417.4 459.1h0M487.7 467.8h0M434.2 464.1h0M447.7 463.6h0M478.8 463.0h0M488.9 468.1h0M412.2 465.7h0M489.6 466.3h0M490.0 464.3h0M414.7 467.7h0M553.7 471.4h0M491.3 465.0h0M526.0 467.4h0M421.6 467.1h0M437.6 466.9h0M506.7 472.2h0M493.0 469.5h0M498.3 471.6h0M433.6 460.9h0M494.1 465.3h0M494.2 466.7h0M494.6 462.6h0M495.2 469.4h0M477.2 470.1h0M495.8 468.4h0M491.7 466.6h0M496.6 463.2h0M497.1 468.8h0M497.4 468.7h0M492.9 463.9h0M498.1 467.5h0M428.0 462.4h0M498.8 466.3h0M498.9 470.8h0M553.2 473.2h0M516.7 467.4h0M515.5 468.0h0M417.1 462.3h0M500.7 464.8h0M550.8 466.3h0M501.6 466.6h0M501.9 470.8h0M477.8 468.1h0M515.9 469.7h0M445.7 463.6h0M554.9 470.1h0M417.7 465.5h0M503.9 466.7h0M504.4 466.8h0M504.6 467.4h0M526.4 465.1h0M431.4 463.6h0M526.6 464.8h0M446.2 466.2h0M443.0 465.0h0M490.7 468.4h0M507.2 465.9h0M415.7 460.1h0M430.1 464.1h0M442.3 465.7h0M508.6 464.8h0M531.3 469.1h0M490.7 464.4h0M509.8 466.2h0M528.7 464.5h0M528.6 469.4h0M499.5 466.5h0M421.6 462.2h0M511.5 469.3h0M523.1 468.6h0M512.4 466.7h0M512.5 466.8h0M441.3 464.6h0M513.3 469.0h0M513.7 467.0h0M513.9 467.4h0M534.5 469.1h0M514.7 468.0h0M431.3 463.9h0M509.7 466.5h0M515.7 466.2h0M462.7 462.8h0M429.7 464.1h0M516.9 464.9h0M517.4 466.2h0M437.2 462.8h0M518.2 471.5h0M518.4 470.1h0M518.8 467.6h0M518.9 470.9h0M519.5 468.5h0M502.0 465.8h0M413.5 465.8h0M469.8 464.0h0M520.8 466.1h0M434.9 461.3h0M521.6 469.3h0M505.0 468.7h0M522.2 470.8h0M522.8 465.1h0M523.0 470.6h0M520.1 465.5h0M430.1 468.6h0M524.1 470.4h0M550.5 469.9h0M524.6 471.1h0M525.0 469.1h0M553.1 468.6h0M466.8 466.3h0M544.4 473.5h0M526.5 466.9h0M425.6 463.9h0M527.2 469.7h0M531.7 469.2h0M518.9 471.2h0M462.0 467.8h0M462.1 465.9h0M487.6 468.3h0M481.1 465.4h0M529.1 467.7h0M530.1 470.0h0M453.1 461.0h0M530.9 470.2h0M531.1 467.9h0M531.5 470.5h0M447.4 462.4h0M510.2 468.6h0M532.8 470.8h0M533.1 468.0h0M533.3 469.2h0M549.3 466.2h0M440.4 465.1h0M532.3 467.0h0M486.8 465.7h0M509.1 467.5h0M473.8 465.1h0M535.9 465.4h0M536.3 470.5h0M511.7 467.6h0M457.0 468.5h0M440.9 465.3h0M537.7 465.0h0M538.0 471.2h0M538.4 464.8h0M522.9 469.3h0M531.0 470.9h0M540.7 466.0h0M455.1 467.4h0M493.7 463.0h0M540.6 464.5h0M540.9 468.3h0M466.4 467.2h0M541.8 471.7h0M469.7 463.9h0M542.4 472.0h0M474.8 469.6h0M489.2 470.5h0M543.3 468.3h0M530.7 468.3h0M544.0 470.0h0M414.4 467.3h0M554.9 467.8h0M545.2 472.2h0M545.6 473.3h0M425.7 466.2h0M546.2 465.8h0M413.2 460.1h0M528.2 470.2h0M547.5 469.9h0M547.6 469.3h0M548.0 467.7h0M532.4 472.1h0M548.7 469.1h0M549.2 469.4h0M549.6 473.6h0M464.9 465.6h0M457.0 464.9h0M550.4 467.1h0M537.3 469.8h0M551.2 466.9h0M452.5 460.3h0M449.6 467.2h0M552.4 467.3h0M552.8 471.0h0M553.0 467.0h0M546.4 471.8h0M553.7 465.4h0M554.1 468.0h0M554.6 467.2h0M554.7 466.4h0" stroke="#ff0000" stroke-width="3.10" stroke-linecap="round" fill="none"/>
<path d="M77.3 300.4H556.8" stroke="#ff0000" stroke-width="2.85" stroke-dasharray="8.5 3.84" fill="none"/>
<path d="M77.3 393.1H556.8" stroke="#ff0000" stroke-width="2.85" stroke-dasharray="8.5 3.84" fill="none"/>
</g>
<path d="M78.10 488.30v-3.80M78.10 12.00v3.80M101.93 488.30v-3.80M101.93 12.00v3.80M125.77 488.30v-6.50M125.77 12.00v6.50M149.60 488.30v-3.80M149.60 12.00v3.80M173.44 488.30v-3.80M173.44 12.00v3.80M197.27 488.30v-3.80M197.27 12.00v3.80M221.11 488.30v-6.50M221.11 12.00v6.50M244.94 488.30v-3.80M244.94 12.00v3.80M268.78 488.30v-3.80M268.78 12.00v3.80M292.61 488.30v-3.80M292.61 12.00v3.80M316.45 488.30v-6.50M316.45 12.00v6.50M340.28 488.30v-3.80M340.28 12.00v3.80M364.12 488.30v-3.80M364.12 12.00v3.80M387.95 488.30v-3.80M387.95 12.00v3.80M411.79 488.30v-6.50M411.79 12.00v6.50M435.62 488.30v-3.80M435.62 12.00v3.80M459.46 488.30v-3.80M459.46 12.00v3.80M483.29 488.30v-3.80M483.29 12.00v3.80M507.13 488.30v-6.50M507.13 12.00v6.50M530.96 488.30v-3.80M530.96 12.00v3.80M554.80 488.30v-3.80M554.80 12.00v3.80M78.10 488.30h6.50M554.80 488.30h-6.50M78.10 469.25h3.80M554.80 469.25h-3.80M78.10 450.20h3.80M554.80 450.20h-3.80M78.10 431.14h3.80M554.80 431.14h-3.80M78.10 412.09h3.80M554.80 412.09h-3.80M78.10 393.04h6.50M554.80 393.04h-6.50M78.10 373.99h3.80M554.80 373.99h-3.80M78.10 354.94h3.80M554.80 354.94h-3.80M78.10 335.88h3.80M554.80 335.88h-3.80M78.10 316.83h3.80M554.80 316.83h-3.80M78.10 297.78h6.50M554.80 297.78h-6.50M78.10 278.73h3.80M554.80 278.73h-3.80M78.10 259.68h3.80M554.80 259.68h-3.80M78.10 240.62h3.80M554.80 240.62h-3.80M78.10 221.57h3.80M554.80 221.57h-3.80M78.10 202.52h6.50M554.80 202.52h-6.50M78.10 183.47h3.80M554.80 183.47h-3.80M78.10 164.42h3.80M554.80 164.42h-3.80M78.10 145.36h3.80M554.80 145.36h-3.80M78.10 126.31h3.80M554.80 126.31h-3.80M78.10 107.26h6.50M554.80 107.26h-6.50M78.10 88.21h3.80M554.80 88.21h-3.80M78.10 69.16h3.80M554.80 69.16h-3.80M78.10 50.10h3.80M554.80 50.10h-3.80M78.10 31.05h3.80M554.80 31.05h-3.80M78.10 12.00h6.50M554.80 12.00h-6.50" stroke="#000" stroke-width="2.1" fill="none"/>
<rect x="78.10" y="12.00" width="476.70" height="476.30" fill="none" stroke="#000" stroke-width="2.3"/>
<text transform="translate(125.8,513.4) scale(1,1.05)" font-size="21.2" text-anchor="middle" font-family="Liberation Sans, sans-serif" font-weight="bold">380</text>
<text transform="translate(221.1,513.4) scale(1,1.05)" font-size="21.2" text-anchor="middle" font-family="Liberation Sans, sans-serif" font-weight="bold">400</text>
<text transform="translate(316.4,513.4) scale(1,1.05)" font-size="21.2" text-anchor="middle" font-family="Liberation Sans, sans-serif" font-weight="bold">420</text>
<text transform="translate(411.8,513.4) scale(1,1.05)" font-size="21.2" text-anchor="middle" font-family="Liberation Sans, sans-serif" font-weight="bold">440</text>
<text transform="translate(507.1,513.4) scale(1,1.05)" font-size="21.2" text-anchor="middle" font-family="Liberation Sans, sans-serif" font-weight="bold">460</text>
<text transform="translate(73.7,496.9) scale(1,1.05)" font-size="21.7" text-anchor="end" font-family="Liberation Sans, sans-serif" font-weight="bold">0.0</text>
<text transform="translate(73.7,401.6) scale(1,1.05)" font-size="21.7" text-anchor="end" font-family="Liberation Sans, sans-serif" font-weight="bold">0.5</text>
<text transform="translate(73.7,306.3) scale(1,1.05)" font-size="21.7" text-anchor="end" font-family="Liberation Sans, sans-serif" font-weight="bold">1.0</text>
<text transform="translate(73.7,211.1) scale(1,1.05)" font-size="21.7" text-anchor="end" font-family="Liberation Sans, sans-serif" font-weight="bold">1.5</text>
<text transform="translate(73.7,115.8) scale(1,1.05)" font-size="21.7" text-anchor="end" font-family="Liberation Sans, sans-serif" font-weight="bold">2.0</text>
<text transform="translate(73.7,20.6) scale(1,1.05)" font-size="21.7" text-anchor="end" font-family="Liberation Sans, sans-serif" font-weight="bold">2.5</text>
<circle cx="364.4" cy="50.1" r="3.7" fill="#0000ff"/>
<g fill="#0000ff" font-size="15.4">
<text x="390.0" y="55.6" font-family="Liberation Sans, sans-serif" font-weight="bold" font-style="italic">λ</text>
<text x="397.9" y="55.6" font-family="Liberation Sans, sans-serif">′</text>
<text x="398.2" y="58.8" font-size="10.9" font-family="Liberation Sans, sans-serif" font-weight="bold">a33</text>
<text x="417.5" y="55.6" font-family="Liberation Sans, sans-serif" font-weight="bold">=3</text>
<text x="439.5" y="55.6" font-size="15.55" font-family="Liberation Sans, sans-serif" font-weight="bold">(Scenario A)</text>
</g>
<circle cx="364.4" cy="88.2" r="3.7" fill="#000000"/>
<g fill="#000000" font-size="15.4">
<text x="390.0" y="93.7" font-family="Liberation Sans, sans-serif" font-weight="bold" font-style="italic">λ</text>
<text x="397.9" y="93.7" font-family="Liberation Sans, sans-serif">′</text>
<text x="398.2" y="96.9" font-size="10.9" font-family="Liberation Sans, sans-serif" font-weight="bold">a33</text>
<text x="417.5" y="93.7" font-family="Liberation Sans, sans-serif" font-weight="bold">=3</text>
<text x="439.5" y="93.7" font-size="15.55" font-family="Liberation Sans, sans-serif" font-weight="bold">(Scenario B)</text>
</g>
<circle cx="364.4" cy="126.3" r="3.7" fill="#008000"/>
<g fill="#008000" font-size="15.4">
<text x="390.0" y="131.8" font-family="Liberation Sans, sans-serif" font-weight="bold" font-style="italic">λ</text>
<text x="397.9" y="131.8" font-family="Liberation Sans, sans-serif">′</text>
<text x="398.2" y="135.0" font-size="10.9" font-family="Liberation Sans, sans-serif" font-weight="bold">a33</text>
<text x="417.5" y="131.8" font-family="Liberation Sans, sans-serif" font-weight="bold">=2</text>
<text x="439.5" y="131.8" font-size="15.55" font-family="Liberation Sans, sans-serif" font-weight="bold">(Scenario A)</text>
</g>
<circle cx="364.4" cy="164.4" r="3.7" fill="#ff0000"/>
<g fill="#ff0000" font-size="15.4">
<text x="390.0" y="169.9" font-family="Liberation Sans, sans-serif" font-weight="bold" font-style="italic">λ</text>
<text x="397.9" y="169.9" font-family="Liberation Sans, sans-serif">′</text>
<text x="398.2" y="173.1" font-size="10.9" font-family="Liberation Sans, sans-serif" font-weight="bold">a33</text>
<text x="417.5" y="169.9" font-family="Liberation Sans, sans-serif" font-weight="bold">=2</text>
<text x="439.5" y="169.9" font-size="15.55" font-family="Liberation Sans, sans-serif" font-weight="bold">(Scenario B)</text>
</g>
<text x="112.07" y="265.6" font-size="15.4" fill="#ff0000" font-family="Liberation Sans, sans-serif" font-weight="bold">FCC−hh(10 ab<tspan dx="-0.2" dy="-6.9" font-size="10.7">−1</tspan><tspan dx="2.3" dy="6.9">)</tspan></text>
<text x="112.07" y="381.1" font-size="15.4" fill="#ff0000" font-family="Liberation Sans, sans-serif" font-weight="bold">FCC−hh(39 ab<tspan dx="-0.2" dy="-6.9" font-size="10.7">−1</tspan><tspan dx="2.3" dy="6.9">)</tspan></text>
<text x="256.5" y="553.2" font-size="28" font-family="Liberation Sans, sans-serif" font-weight="bold" font-style="italic">m</text>
<text x="281.85" y="563.7" font-size="19.9" font-family="Liberation Sans, sans-serif" font-weight="bold" font-style="italic">L</text>
<text x="293.1" y="568.4" font-size="14.1" font-family="Liberation Sans, sans-serif" font-weight="bold">2</text>
<text x="293.3" y="553.3" font-size="14.1" font-family="Liberation Sans, sans-serif" font-weight="bold">′</text>
<text x="283.9" y="556.5" font-size="18.5" font-family="Liberation Sans, sans-serif" font-weight="bold">˜</text>
<text x="302.6" y="553.2" font-size="28" font-family="Liberation Sans, sans-serif" font-weight="bold">(GeV)</text>
<g transform="translate(28.3,362.4) rotate(-90)">
<text x="23.0" y="0" font-size="28" font-family="Liberation Sans, sans-serif" font-weight="bold">(t</text>
<path d="M42.8 -7.6H61.3M55.1 -13.8L61.3 -7.6L55.1 -1.4" stroke="#000" stroke-width="3.2" fill="none" stroke-linejoin="miter"/>
<text x="64.3" y="0" font-size="28" font-family="Liberation Sans, sans-serif" font-weight="bold">cg)</text>
<text x="106.6" y="4.1" font-size="19.9" font-family="Liberation Sans, sans-serif" font-weight="bold">NP</text>
<text x="134.5" y="0" font-size="28" font-family="Liberation Sans, sans-serif" font-weight="bold">(</text>
<path d="M146.45 -12.95L157.25 -2.25M146.45 -2.25L157.25 -12.95" stroke="#000" stroke-width="3.2" fill="none"/>
<text transform="translate(160.18,0) scale(1,1.04)" font-size="28" font-family="Liberation Sans, sans-serif" font-weight="bold">10</text>
<text x="190.9" y="-11.2" font-size="19.9" font-family="Liberation Sans, sans-serif" font-weight="bold">−</text>
<text transform="translate(202.52,-13.2) scale(1,1.03)" font-size="19.9" font-family="Liberation Sans, sans-serif" font-weight="bold">7</text>
<text x="214.9" y="0" font-size="28" font-family="Liberation Sans, sans-serif" font-weight="bold">)</text>
</g>
<path d="M18.27 357.24C18.06 357.43 17.54 358.18 16.98 358.34C16.43 358.51 15.75 358.59 14.97 358.22C14.18 357.85 13.06 357.12 12.28 356.14C11.49 355.16 10.71 353.69 10.26 352.35C9.81 351.00 9.56 349.41 9.58 348.07C9.60 346.72 9.89 345.21 10.38 344.28C10.87 343.34 11.69 342.64 12.52 342.44C13.35 342.24 14.58 342.52 15.33 343.05C16.09 343.58 16.72 344.63 17.05 345.62C17.37 346.61 17.23 347.94 17.29 348.98C17.35 350.02 17.39 351.38 17.41 351.86M17.29 348.98C17.35 348.48 17.30 346.76 17.66 345.93C18.01 345.09 18.63 344.41 19.43 343.97C20.24 343.53 21.44 343.14 22.49 343.30C23.54 343.45 24.88 343.94 25.73 344.89C26.58 345.83 27.16 347.44 27.57 348.98C27.97 350.53 28.08 352.45 28.18 354.18C28.28 355.92 28.31 358.04 28.18 359.38C28.04 360.73 27.51 361.78 27.38 362.26M10.44 349.29C11.07 349.55 12.99 350.39 14.23 350.82C15.48 351.25 16.66 351.38 17.90 351.86C19.15 352.34 20.65 352.92 21.69 353.69C22.73 354.47 23.43 355.49 24.14 356.51C24.85 357.53 25.44 358.85 25.98 359.81C26.52 360.77 27.15 361.85 27.38 362.26" stroke="#000" stroke-width="2.0" stroke-linecap="round" stroke-linejoin="round" fill="none"/>
<path d="M12.28 356.14C11.94 355.51 10.71 353.69 10.26 352.35C9.81 351.00 9.56 349.41 9.58 348.07C9.60 346.72 10.25 344.91 10.38 344.28M25.73 344.89C26.04 345.57 27.16 347.44 27.57 348.98C27.97 350.53 28.08 352.45 28.18 354.18C28.28 355.92 28.18 358.52 28.18 359.38M14.23 350.82C14.84 350.99 16.66 351.38 17.90 351.86C19.15 352.34 20.65 352.92 21.69 353.69C22.73 354.47 23.43 355.49 24.14 356.51C24.85 357.53 25.67 359.26 25.98 359.81M17.05 345.62C17.09 346.18 17.23 347.94 17.29 348.98C17.35 350.02 17.39 351.38 17.41 351.86M18.27 357.24C18.16 357.34 17.71 357.75 17.60 357.85" stroke="#000" stroke-width="2.9" stroke-linecap="round" stroke-linejoin="round" fill="none"/>
</svg>
</body></html>
